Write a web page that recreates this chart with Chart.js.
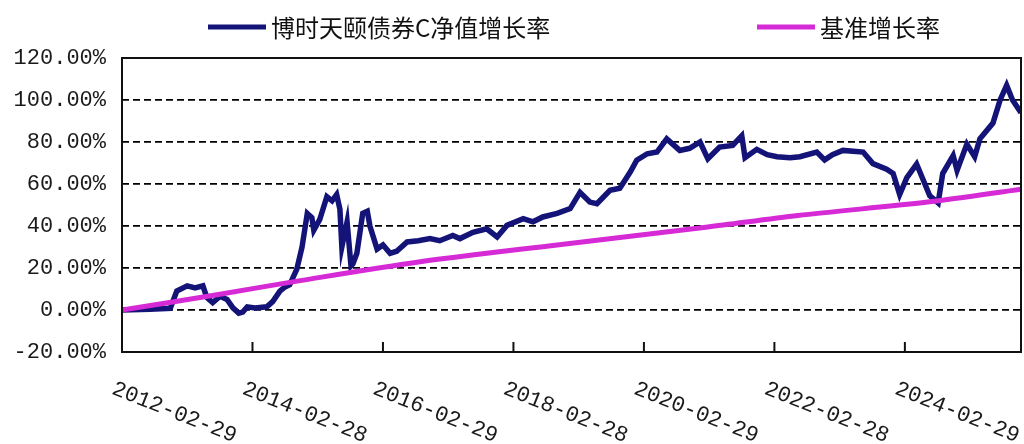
<!DOCTYPE html>
<html>
<head>
<meta charset="utf-8">
<script src="https://cdn.jsdelivr.net/npm/chart.js"></script>
<style>
  html, body { margin: 0; padding: 0; background: #fff; }
  #myChart { display: block; }
</style>
</head>
<body>
<canvas id="myChart" width="1024" height="444"></canvas>
<script>
const seriesNames = ["博时天颐债券C净值增长率", "基准增长率"];

// decimal years
const navYears = [
  2012.16, 2012.59, 2012.90, 2013.00, 2013.16, 2013.28, 2013.40, 2013.46, 2013.55, 2013.66,
  2013.77, 2013.86, 2013.95, 2014.01, 2014.08, 2014.20, 2014.38, 2014.47, 2014.58, 2014.66,
  2014.73, 2014.84, 2014.92, 2015.00, 2015.07, 2015.10, 2015.19, 2015.30, 2015.38, 2015.45,
  2015.50, 2015.53, 2015.61, 2015.67, 2015.70, 2015.76, 2015.85, 2015.92, 2015.96, 2016.07,
  2016.16, 2016.27, 2016.37, 2016.53, 2016.70, 2016.88, 2017.03, 2017.23, 2017.34, 2017.54,
  2017.75, 2017.91, 2018.06, 2018.31, 2018.46, 2018.61, 2018.83, 2019.03, 2019.18, 2019.33,
  2019.44, 2019.64, 2019.79, 2019.95, 2020.05, 2020.21, 2020.36, 2020.51, 2020.71, 2020.86,
  2021.02, 2021.14, 2021.32, 2021.52, 2021.66, 2021.71, 2021.89, 2022.05, 2022.20, 2022.40,
  2022.55, 2022.81, 2022.93, 2023.05, 2023.21, 2023.52, 2023.67, 2023.88, 2023.98, 2024.08,
  2024.19, 2024.34, 2024.44, 2024.54, 2024.67, 2024.74, 2024.90, 2024.96, 2025.11, 2025.23,
  2025.31, 2025.51, 2025.62, 2025.72, 2025.81, 2025.94
];
const navValues = [
  0, 0.3, 0.8, 9, 11.5, 10.5, 11.5, 6, 3.5, 6.5,
  5, 1, -1.5, -1, 1.5, 1, 1.5, 4, 9, 11,
  12, 19.5, 30, 46, 44, 38, 43, 54, 52, 55,
  48, 30, 42, 21, 22, 27, 46, 47, 40, 29,
  31, 27, 28, 32.4, 33, 34, 33, 35.5, 34, 37,
  38.7, 34.8, 40.3, 43.5, 42, 44.3, 46, 48.3, 56, 51.4,
  50.6, 57, 58, 65.7, 71.3, 74.4, 75.2, 81.5, 76, 77,
  80, 72, 77.6, 78.4, 83, 72.5, 76.5, 74, 73, 72.5,
  73, 75.2, 71.5, 74, 76, 75.2, 69.7, 67, 65, 55,
  63, 69.5, 62, 54.5, 51, 65, 73.5, 66.5, 79, 73,
  81.5, 89, 100, 107, 100, 94
];

const benchYears = [2012.16, 2013.66, 2014.89, 2016.73, 2018.83, 2021.14, 2022.52, 2024.54, 2025.94];
const benchValues = [0, 7.5, 14, 23, 31, 39.5, 45, 51.5, 57.5];

const tickYears = [2012.16, 2014.16, 2016.16, 2018.16, 2020.16, 2022.16, 2024.16];
const tickLabels = ["2012-02-29", "2014-02-28", "2016-02-29", "2018-02-28", "2020-02-29", "2022-02-28", "2024-02-29"];

const navColor = "#141478";
const benchColor = "#d62ad6";

const toPoints = (xs, ys) => xs.map((x, i) => ({ x: x, y: ys[i] }));

const framePlugin = {
  id: "frame",
  afterDraw(chart) {
    const ctx = chart.ctx;
    const area = chart.chartArea;
    const xScale = chart.scales.x;
    ctx.save();
    // plot frame
    ctx.strokeStyle = "#111";
    ctx.lineWidth = 2;
    ctx.strokeRect(area.left, area.top, area.right - area.left, area.bottom - area.top);
    // inner ticks + rotated date labels
    ctx.font = "22px 'Liberation Mono', monospace";
    ctx.fillStyle = "#1a1a1a";
    ctx.textAlign = "left";
    ctx.textBaseline = "middle";
    tickYears.forEach((yr, i) => {
      const px = xScale.getPixelForValue(yr);
      ctx.beginPath();
      ctx.moveTo(px, area.bottom);
      ctx.lineTo(px, area.bottom - 10);
      ctx.stroke();
      ctx.save();
      ctx.translate(px - 9, area.bottom + 36);
      ctx.rotate(0.38);
      ctx.fillText(tickLabels[i], 0, 0);
      ctx.restore();
    });
    // legend
    ctx.font = "24px 'Noto Sans CJK SC', sans-serif";
    ctx.fillStyle = "#111";
    ctx.lineWidth = 5;
    const items = [
      { x: 208, color: navColor, text: seriesNames[0] },
      { x: 757, color: benchColor, text: seriesNames[1] },
    ];
    items.forEach((it) => {
      ctx.strokeStyle = it.color;
      ctx.beginPath();
      ctx.moveTo(it.x, 27);
      ctx.lineTo(it.x + 58, 27);
      ctx.stroke();
      ctx.fillText(it.text, it.x + 63, 28);
    });
    ctx.restore();
  },
};

new Chart(document.getElementById("myChart"), {
  type: "line",
  data: {
    datasets: [
      {
        label: seriesNames[0],
        data: toPoints(navYears, navValues),
        borderColor: navColor,
        borderWidth: 5.5,
        pointRadius: 0,
        tension: 0,
        order: 1,
      },
      {
        label: seriesNames[1],
        data: toPoints(benchYears, benchValues),
        borderColor: benchColor,
        borderWidth: 5,
        pointRadius: 0,
        tension: 0.3,
        order: 0,
      },
    ],
  },
  options: {
    responsive: false,
    animation: false,
    layout: { padding: { top: 58, right: 3, bottom: 0, left: 0 } },
    plugins: { legend: { display: false }, tooltip: { enabled: false } },
    scales: {
      x: {
        type: "linear",
        min: 2012.16,
        max: 2025.94,
        grid: { display: false },
        border: { display: false },
        ticks: { display: false },
        afterFit: (scale) => { scale.height = 92; },
      },
      y: {
        min: -20,
        max: 120,
        ticks: {
          stepSize: 20,
          color: "#1a1a1a",
          padding: 16,
          font: { family: "'Liberation Mono', monospace", size: 22 },
          callback: (v) => v.toFixed(2) + "%",
        },
        grid: { color: "#000", lineWidth: 1.8, drawTicks: false },
        border: { display: false, dash: [7, 4] },
        afterFit: (scale) => { scale.width = 122; },
      },
    },
  },
  plugins: [framePlugin],
});
</script>
</body>
</html>
